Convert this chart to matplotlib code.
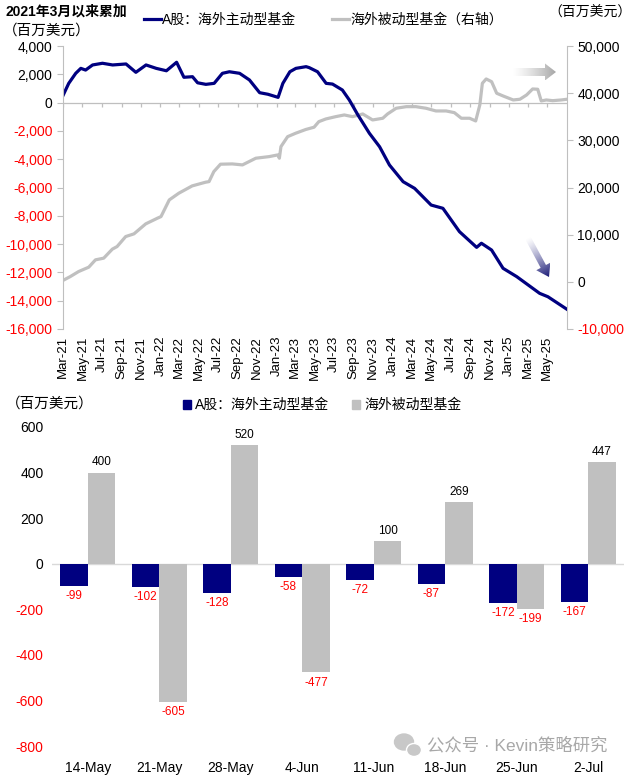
import numpy as np
import pandas as pd
import matplotlib
matplotlib.use("Agg")
import matplotlib.pyplot as plt
from matplotlib.lines import Line2D
from matplotlib.patches import Patch, Polygon, Ellipse
from matplotlib.colors import to_rgb

plt.rcParams["font.family"] = ["Liberation Sans", "Noto Sans CJK SC", "DejaVu Sans"]
plt.rcParams["axes.unicode_minus"] = False

# cumulative flows since Mar 2021 (USD mn)
active_dates = ["2021-03-01", "2021-03-19", "2021-04-10", "2021-04-26", "2021-05-11", "2021-06-02",
                "2021-07-03", "2021-08-04", "2021-09-15", "2021-10-16", "2021-11-17", "2021-12-19",
                "2022-01-20", "2022-02-21", "2022-03-16", "2022-04-12", "2022-04-28", "2022-05-24",
                "2022-06-19", "2022-07-15", "2022-08-06", "2022-09-07", "2022-10-08", "2022-11-09",
                "2022-12-05", "2023-01-06", "2023-01-21", "2023-02-12", "2023-03-03", "2023-04-04",
                "2023-04-14", "2023-05-10", "2023-06-06", "2023-06-26", "2023-07-27", "2023-08-18",
                "2023-09-14", "2023-10-20", "2023-11-21", "2023-12-22", "2024-02-03", "2024-03-10",
                "2024-04-05", "2024-05-01", "2024-06-07", "2024-07-29", "2024-09-21", "2024-10-06",
                "2024-11-07", "2024-12-13", "2025-01-25", "2025-04-07", "2025-05-03", "2025-07-02"]
active_cum = [500, 1360, 2070, 2420, 2300, 2660, 2780, 2660, 2730, 2140, 2660, 2420,
              2250, 2850, 1790, 1830, 1400, 1290, 1360, 2070, 2180, 2070, 1600, 700,
              590, 370, 1360, 2180, 2420, 2540, 2470, 2180, 1360, 1310, 890, 180,
              -880, -2170, -3120, -4410, -5590, -6060, -6650, -7240, -7470, -9120, -10230, -9940,
              -10420, -11710, -12300, -13480, -13720, -14610]

passive_dates = ["2021-03-01", "2021-03-24", "2021-04-19", "2021-05-21", "2021-06-11", "2021-07-07",
                 "2021-08-03", "2021-08-18", "2021-09-14", "2021-10-10", "2021-11-16", "2021-12-23",
                 "2022-01-03", "2022-01-29", "2022-02-28", "2022-04-11", "2022-05-23", "2022-06-03",
                 "2022-06-18", "2022-07-09", "2022-08-15", "2022-09-16", "2022-10-28", "2022-12-09",
                 "2023-01-05", "2023-01-10", "2023-01-15", "2023-02-05", "2023-03-02", "2023-04-03",
                 "2023-04-29", "2023-05-14", "2023-06-05", "2023-07-06", "2023-08-02", "2023-08-28",
                 "2023-09-29", "2023-10-30", "2023-12-01", "2023-12-16", "2024-01-12", "2024-02-13",
                 "2024-03-14", "2024-04-15", "2024-05-16", "2024-06-17", "2024-07-13", "2024-08-04",
                 "2024-08-30", "2024-09-18", "2024-10-01", "2024-10-09", "2024-10-21", "2024-11-07",
                 "2024-11-23", "2024-12-13", "2025-01-14", "2025-02-04", "2025-02-25", "2025-03-16",
                 "2025-04-01", "2025-04-12", "2025-04-28", "2025-05-18", "2025-06-14", "2025-07-02"]
passive_cum = [300, 1120, 2180, 3110, 4660, 5020, 6930, 7480, 9600, 10170, 12290, 13500,
               13830, 17370, 18790, 20340, 21120, 21250, 23370, 24940, 25000, 24790, 26210, 26550,
               26910, 26210, 28670, 30780, 31500, 32300, 32780, 33960, 34530, 35020, 35380, 35020,
               35590, 34320, 34680, 35590, 36800, 37140, 37140, 36800, 36230, 36230, 35870, 34680,
               34680, 34110, 37500, 42100, 43010, 42440, 39980, 39410, 38560, 38710, 39620, 40890,
               40830, 38350, 38560, 38410, 38560, 38710]

# weekly flows (USD mn)
weeks = ["14-May", "21-May", "28-May", "4-Jun", "11-Jun", "18-Jun", "25-Jun", "2-Jul"]
active_week = [-99, -102, -128, -58, -72, -87, -172, -167]
passive_week = [400, -605, 520, -477, 100, 269, -199, 447]

name_active = "A股：海外主动型基金"
name_passive = "海外被动型基金"

NAVY = "#000080"
GREY = "#C0C0C0"
AXIS = "#BFBFBF"
W, H = 634, 777


def fmt(v):
    return f"{v:,}"


def color_ticks(labels, values):
    for lbl, v in zip(labels, values):
        lbl.set_color("red" if v < 0 else "black")


def grad_arrow(ov, start, end, shaft_w, head_w, head_len, color):
    start = np.array(start, float)
    end = np.array(end, float)
    d = end - start
    L = np.hypot(*d)
    u = d / L
    n = np.array([-u[1], u[0]])
    base = end - u * head_len
    pts = [start + n * shaft_w / 2, base + n * shaft_w / 2, base + n * head_w / 2, end,
           base - n * head_w / 2, base - n * shaft_w / 2, start - n * shaft_w / 2]
    poly = Polygon(pts, closed=True, facecolor="none", edgecolor="none")
    ov.add_patch(poly)
    pts = np.array(pts)
    x0, y0 = pts.min(axis=0)
    x1, y1 = pts.max(axis=0)
    X, Y = np.meshgrid(np.linspace(x0, x1, 120), np.linspace(y0, y1, 120))
    t = np.clip(((X - start[0]) * u[0] + (Y - start[1]) * u[1]) / L, 0, 1)
    img = np.zeros(X.shape + (4,))
    img[..., :3] = to_rgb(color)
    img[..., 3] = t ** 1.3
    im = ov.imshow(img, extent=(x0, x1, y1, y0), origin="upper", aspect="auto",
                   interpolation="bilinear", zorder=5)
    im.set_clip_path(poly)


fig = plt.figure(figsize=(W / 100, H / 100), dpi=100)

# ---------- top: cumulative lines ----------
ax = fig.add_axes([63 / W, 1 - 329 / H, (567 - 63) / W, (329 - 46) / H])
ax2 = ax.twinx()
ax.set_zorder(ax2.get_zorder() + 1)
ax.patch.set_visible(False)

ax2.plot(pd.to_datetime(passive_dates), passive_cum, color=GREY, lw=2.3, solid_joinstyle="round")
ax.plot(pd.to_datetime(active_dates), active_cum, color=NAVY, lw=2.3, solid_joinstyle="round")

xticks = pd.date_range("2021-03-01", "2025-05-01", freq="2MS")
ax.set_xlim(pd.Timestamp("2021-03-01"), pd.Timestamp("2025-07-02"))
ax.set_xticks(xticks)
ax.set_xticklabels([d.strftime("%b-%y") for d in xticks], rotation=90, fontsize=9.5)
ax.tick_params(axis="x", length=0, pad=5)

left_ticks = list(range(-16000, 4001, 2000))
ax.set_ylim(-16000, 4000)
ax.set_yticks(left_ticks)
ax.set_yticklabels([fmt(v) for v in left_ticks], fontsize=10)
color_ticks(ax.get_yticklabels(), left_ticks)
ax.tick_params(axis="y", length=4, color=AXIS, width=0.8)

right_ticks = list(range(-10000, 50001, 10000))
ax2.set_ylim(-10000, 50000)
ax2.set_yticks(right_ticks)
ax2.set_yticklabels([fmt(v) for v in right_ticks], fontsize=10)
color_ticks(ax2.get_yticklabels(), right_ticks)
ax2.tick_params(axis="y", length=4, color=AXIS, width=0.8)

for s in ["top", "bottom", "right"]:
    ax.spines[s].set_visible(False)
for s in ["top", "bottom", "left"]:
    ax2.spines[s].set_visible(False)
ax.spines["left"].set_color(AXIS)
ax2.spines["right"].set_color(AXIS)

# category axis crossing at zero with its tick marks
ax.axhline(0, color=AXIS, lw=0.9, zorder=1)
ax.vlines(xticks, -280, 0, color=AXIS, lw=0.9, zorder=1)

fig.legend(handles=[Line2D([], [], color=NAVY, lw=2.3), Line2D([], [], color=GREY, lw=2.3)],
           labels=[name_active, name_passive + "（右轴）"], loc="center",
           bbox_to_anchor=(0.51, 1 - 20 / H), ncol=2, frameon=False, fontsize=10,
           handlelength=1.2, handletextpad=0.1, columnspacing=2.6)

fig.text(5 / W, 1 - 12 / H, "2021年3月以来累加", fontsize=10, fontweight="bold", va="center")
fig.text(3 / W, 1 - 31 / H, "（百万美元）", fontsize=10.5, va="center")
fig.text(632 / W, 1 - 13 / H, "（百万美元）", fontsize=10, va="center", ha="right")

# ---------- bottom: weekly bars ----------
axb = fig.add_axes([52 / W, 1 - 746 / H, (624 - 52) / W, (746 - 427) / H])
x = np.arange(len(weeks))
w = 0.385
b1 = axb.bar(x - w / 2, active_week, w, color=NAVY, zorder=2)
b2 = axb.bar(x + w / 2, passive_week, w, color=GREY, zorder=2)
axb.axhline(0, color="#D9D9D9", lw=1, zorder=1)
axb.set_xlim(-0.5, len(weeks) - 0.5)
axb.set_ylim(-800, 600)
bticks = list(range(-800, 601, 200))
axb.set_yticks(bticks)
axb.set_yticklabels([str(v) for v in bticks], fontsize=10)
color_ticks(axb.get_yticklabels(), bticks)
axb.set_xticks(x)
axb.set_xticklabels(weeks, fontsize=10)
axb.tick_params(axis="y", length=0, pad=6)
axb.tick_params(axis="x", length=0, pad=11)
for s in axb.spines.values():
    s.set_visible(False)

for bars, vals in [(b1, active_week), (b2, passive_week)]:
    texts = axb.bar_label(bars, labels=[str(v) for v in vals], padding=3, fontsize=8.5)
    color_ticks(texts, vals)

fig.legend(handles=[Patch(color=NAVY), Patch(color=GREY)], labels=[name_active, name_passive],
           loc="center", bbox_to_anchor=(0.508, 1 - 405 / H), ncol=2, frameon=False, fontsize=10,
           handlelength=0.6, handleheight=0.6, handletextpad=0.3, columnspacing=1.6)
fig.text(6 / W, 1 - 404 / H, "（百万美元）", fontsize=10.5, va="center")

# ---------- overlay: arrows and watermark ----------
ov = fig.add_axes([0, 0, 1, 1])
ov.set_autoscale_on(False)
ov.axis("off")
grad_arrow(ov, (512, 72), (556, 72), 8, 17, 11, "#A6A6A6")
grad_arrow(ov, (528, 238), (549, 277), 6, 16, 12, "#1C1C78")
ov.add_patch(Ellipse((404, 742), 19, 16, color="#C8C8C8", zorder=6))
ov.add_patch(Ellipse((414, 750), 15, 13, color="#C8C8C8", ec="white", lw=1, zorder=7))
ov.text(427, 745, "公众号 · Kevin策略研究", fontsize=12.5, color="#A8A8A8", va="center", zorder=7)
ov.set_xlim(0, W)
ov.set_ylim(H, 0)

fig.savefig("out.png", dpi=100)
